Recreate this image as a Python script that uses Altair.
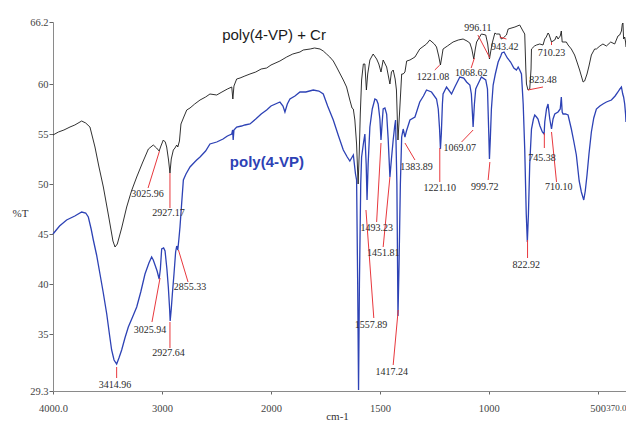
import altair as alt
import pandas as pd

# ---- poly(4-VP) + Cr (black trace): wavenumber (cm-1), %T ----
bk_wn = [4000, 3950, 3900, 3844, 3800, 3737, 3700, 3661, 3615, 3580, 3538, 3490, 3450, 3431, 3410,
         3370, 3324, 3280, 3232, 3180, 3125, 3080, 3050, 3026, 3010, 2988, 2970, 2957, 2940, 2927,
         2915, 2896, 2881, 2865, 2855, 2840, 2826, 2800, 2773, 2743, 2700, 2651, 2600, 2560, 2498,
         2450, 2400, 2360, 2350, 2340, 2315, 2284, 2240, 2193, 2140, 2090, 2040, 2000, 1959, 1928,
         1900, 1867, 1852, 1820, 1800, 1775, 1760, 1745, 1730, 1714, 1699, 1680, 1668, 1653, 1645,
         1638, 1628, 1622, 1615, 1607, 1600, 1595, 1590, 1584, 1576, 1569, 1562, 1556, 1546, 1531,
         1515, 1505, 1495, 1485, 1469, 1454, 1447, 1439, 1430, 1424, 1417, 1410, 1400, 1393, 1385,
         1377, 1362, 1339, 1317, 1286, 1271, 1250, 1240, 1230, 1222, 1215, 1210, 1190, 1164, 1140,
         1118, 1100, 1087, 1078, 1069, 1062, 1056, 1034, 1014, 1005, 997, 990, 983, 972, 965,
         950, 943, 934, 919, 911, 880, 858, 843, 835, 830, 827, 820, 812, 806, 804,
         790, 781, 766, 751, 743, 736, 728, 724, 712, 705, 697, 689, 682, 672, 667,
         663, 659, 644, 636, 621, 606, 595, 583, 567, 560, 549, 540, 529, 514, 506,
         490, 476, 460, 440, 422, 407, 399, 391, 387, 384, 381, 376, 372, 370]
bk_t = [54.9, 55.2, 55.4, 55.7, 55.9, 56.3, 56.1, 55.7, 53.7, 51.8, 49.7, 46.8, 44.3, 43.7, 44.0,
        45.6, 47.7, 49.3, 50.7, 52.1, 53.5, 53.9, 53.6, 53.3, 53.8, 54.4, 54.2, 53.7, 52.4, 51.1,
        52.5, 53.4, 53.6, 53.9, 53.7, 54.3, 56.0, 56.7, 57.4, 57.6, 58.0, 58.4, 58.7, 59.0, 58.9,
        59.2, 59.5, 59.7, 58.5, 59.8, 60.5, 60.6, 60.8, 61.0, 61.2, 61.5, 61.6, 61.9, 62.3, 62.7,
        63.0, 63.2, 63.4, 63.5, 63.6, 63.5, 63.3, 63.0, 62.7, 62.3, 61.7, 60.9, 60.4, 59.7, 59.0,
        58.4, 57.6, 57.5, 56.4, 54.0, 50.0, 53.0, 57.0, 60.4, 62.0, 62.0, 59.4, 61.0, 62.4, 63.0,
        62.5, 62.0, 61.2, 62.4, 61.7, 60.0, 61.2, 61.4, 60.5, 59.4, 54.4, 57.0, 61.0, 61.0, 61.2,
        62.3, 62.4, 62.7, 63.5, 64.0, 64.4, 64.0, 63.7, 62.8, 61.9, 62.8, 63.5, 63.8, 64.2, 64.4,
        64.5, 64.3, 64.1, 63.5, 62.5, 63.5, 64.2, 65.0, 64.9, 64.0, 62.5, 63.4, 64.2, 65.1, 65.0,
        65.0, 64.5, 64.6, 64.9, 65.5, 65.7, 65.9, 65.3, 65.0, 61.5, 60.0, 59.4, 59.5, 61.5, 63.5,
        63.8, 63.9, 64.0, 63.9, 64.5, 64.7, 65.1, 65.0, 64.2, 64.3, 64.4, 64.8, 64.5, 64.8, 65.3,
        64.2, 64.2, 64.2, 63.9, 63.5, 62.9, 62.2, 61.4, 60.2, 60.3, 61.0, 61.8, 62.9, 63.5, 63.5,
        63.8, 64.0, 63.8, 64.2, 64.0, 64.8, 64.9, 65.3, 66.0, 66.1, 64.5, 64.7, 64.2, 63.7]

# ---- poly(4-VP) (blue trace) ----
bl_wn = [4000, 3940, 3875, 3800, 3737, 3700, 3676, 3650, 3630, 3600, 3569, 3540, 3507, 3480, 3462,
         3440, 3416, 3395, 3370, 3340, 3309, 3270, 3232, 3195, 3156, 3120, 3095, 3080, 3064, 3045,
         3026, 3015, 3003, 2985, 2972, 2955, 2942, 2930, 2925, 2915, 2905, 2890, 2875, 2865, 2855,
         2845, 2835, 2820, 2804, 2780, 2743, 2700, 2682, 2651, 2600, 2560, 2498, 2440, 2400, 2360,
         2352, 2347, 2340, 2315, 2270, 2240, 2193, 2140, 2090, 2040, 2000, 1959, 1945, 1936, 1925,
         1913, 1890, 1867, 1840, 1806, 1780, 1760, 1740, 1714, 1690, 1668, 1650, 1638, 1630, 1622,
         1612, 1607, 1602, 1598, 1594, 1588, 1584, 1576, 1569, 1563, 1559, 1554, 1546, 1535, 1523,
         1515, 1508, 1500, 1495, 1490, 1485, 1477, 1469, 1462, 1454, 1447, 1439, 1432, 1428, 1422,
         1417, 1412, 1406, 1400, 1393, 1385, 1378, 1362, 1339, 1317, 1300, 1286, 1263, 1240, 1232,
         1226, 1222, 1218, 1213, 1210, 1194, 1171, 1156, 1133, 1115, 1102, 1087, 1080, 1075, 1072,
         1066, 1060, 1056, 1034, 1014, 1006, 1000, 997, 993, 988, 980, 970, 957, 945, 940,
         930, 915, 900, 885, 873, 865, 858, 850, 842, 835, 828, 823, 818, 812, 804,
         795, 789, 781, 774, 765, 754, 746, 743, 735, 728, 720, 712, 705, 697, 682,
         672, 667, 663, 659, 648, 636, 621, 610, 598, 585, 575, 564, 557, 549, 540,
         529, 518, 506, 490, 476, 460, 437, 420, 407, 398, 391, 385, 381, 376, 372, 370]
bl_t = [45.0, 45.8, 46.4, 46.8, 47.2, 47.1, 46.7, 45.5, 44.4, 42.9, 41.0, 39.2, 37.0, 34.8, 33.4,
        32.4, 32.0, 32.6, 33.4, 34.6, 35.7, 36.7, 37.7, 39.2, 41.0, 42.1, 42.7, 42.4, 41.9, 41.3,
        40.5, 41.5, 43.5, 43.6, 43.3, 41.5, 39.7, 37.5, 36.3, 37.5, 39.0, 41.0, 43.2, 43.8, 43.4,
        44.5, 45.7, 48.0, 50.4, 51.0, 51.7, 52.2, 52.4, 52.7, 53.3, 54.0, 54.2, 54.5, 54.8, 55.0,
        55.4, 54.4, 55.4, 55.7, 55.8, 55.9, 56.0, 56.5, 57.0, 57.4, 57.8, 58.2, 57.8, 57.2, 58.0,
        58.5, 58.8, 59.2, 59.2, 59.4, 59.3, 59.0, 57.8, 56.4, 54.8, 53.4, 52.7, 52.3, 52.6, 52.9,
        51.0, 50.4, 40.0, 29.4, 40.0, 50.0, 52.7, 54.0, 55.0, 52.0, 48.4, 52.0, 55.7, 57.5, 58.5,
        58.4, 58.0, 56.5, 54.4, 56.0, 57.5, 57.6, 57.0, 54.5, 50.7, 52.5, 54.4, 55.8, 56.4, 50.0,
        36.8, 42.0, 50.0, 54.7, 55.5, 54.7, 55.3, 56.4, 56.7, 58.2, 58.8, 59.4, 59.2, 58.5, 57.5,
        55.5, 53.5, 55.0, 58.0, 59.0, 59.7, 59.0, 59.7, 60.7, 60.6, 60.2, 59.9, 59.0, 57.0, 55.7,
        58.0, 59.5, 59.7, 60.7, 60.4, 59.5, 55.0, 52.5, 54.5, 57.5, 59.9, 61.0, 62.2, 62.8, 63.1,
        63.2, 62.6, 62.2, 61.6, 61.4, 61.7, 61.4, 61.0, 58.0, 53.5, 47.0, 44.2, 47.0, 52.0, 55.5,
        56.5, 56.9, 56.7, 56.5, 55.8, 55.2, 55.0, 56.2, 57.5, 58.0, 56.5, 55.5, 56.5, 57.0, 57.2,
        57.5, 58.7, 57.2, 57.0, 57.0, 56.9, 55.5, 54.3, 52.9, 50.3, 49.2, 48.4, 49.3, 50.9, 53.0,
        55.2, 56.6, 57.5, 57.8, 58.0, 58.2, 58.4, 58.8, 59.2, 59.5, 59.7, 59.0, 58.7, 58.0, 57.0, 56.2]

# ---- peak annotations: label, label position, red leader line (wavenumber, %T) ----
ann_text = ["3025.96", "2927.17", "3025.94", "2927.64", "2855.33", "3414.96", "1493.23", "1451.81",
            "1557.89", "1417.24", "1383.89", "1221.10", "1069.07", "999.72", "1221.08", "1068.62",
            "996.11", "943.42", "710.23", "823.48", "822.92", "745.38", "710.10"]
ann_tx = [3133, 2940, 3110, 2940, 2743, 3431, 1515, 1485, 1541, 1446, 1332, 1225, 1133, 1018, 1256,
          1081, 1050, 927, 712, 751, 828, 756, 679]
ann_ty = [49.0, 47.1, 35.4, 33.1, 39.7, 29.9, 45.6, 43.1, 35.9, 31.2, 51.7, 49.6, 53.6, 49.7, 60.7,
          61.1, 65.6, 63.7, 63.1, 60.4, 41.9, 52.6, 49.7]
ann_x1 = [3128, 2927, 3092, 2927, 2761, 3416, 1515, 1485, 1528, 1439, 1339, 1225, 1125, 1003, 1248,
          1081, 1050, 950, 712, 820, 822, 745, 689]
ann_y1 = [49.6, 47.6, 36.2, 33.6, 40.2, 30.6, 46.2, 43.7, 36.6, 31.9, 52.4, 50.2, 54.2, 50.4, 61.4,
          61.6, 64.9, 64.7, 64.2, 59.4, 42.6, 53.6, 50.2]
ann_x2 = [3023, 2927, 3018, 2927, 2849, 3416, 1495, 1454, 1564, 1416, 1385, 1225, 1072, 995, 1225,
          1066, 995, 919, 712, 751, 822, 745, 712]
ann_y2 = [53.3, 51.1, 40.6, 36.2, 43.4, 31.7, 54.1, 50.7, 47.4, 37.4, 54.1, 53.6, 55.4, 52.2, 61.9,
          62.6, 62.6, 64.5, 63.9, 59.7, 44.4, 55.1, 55.2]

# ---- series labels ----
series_names = ["poly(4-VP) + Cr", "poly(4-VP)"]
series_colors = ["#1a1a1a", "#2d42b5"]
series_weights = ["normal", "bold"]
series_lx = [1986, 2037]
series_ly = [64.9, 52.2]

x_ticks = [4000, 3000, 2000, 1500, 1000, 500, 370]
y_ticks = [29.3, 35, 40, 45, 50, 55, 60, 66.2]

df_bk = pd.DataFrame({"wn": bk_wn, "t": bk_t})
df_bl = pd.DataFrame({"wn": bl_wn, "t": bl_t})
df_ann = pd.DataFrame({"label": ann_text, "tx": ann_tx, "ty": ann_ty,
                       "x1": ann_x1, "y1": ann_y1, "x2": ann_x2, "y2": ann_y2})

xscale = alt.Scale(domain=[4000, 2000, 370], range=[0, 218, 573], nice=False, zero=False)
yscale = alt.Scale(domain=[29.3, 66.2], nice=False, zero=False)

serif = "Liberation Serif"

xaxis = alt.Axis(values=x_ticks, title="cm-1", grid=False,
                 labelExpr="datum.value == 4000 || datum.value == 370 ? format(datum.value, '.1f') : format(datum.value, 'd')",
                 labelAlign={"expr": "datum.value == 370 ? 'right' : 'center'"},
                 labelFontSize={"expr": "datum.value == 370 ? 9 : 10.5"},
                 labelFont=serif, labelColor="#444", labelPadding=9,
                 labelOverlap=False, labelFlush=False,
                 tickSize=3, tickColor="#666", domainColor="#8a8a8a",
                 titleFont=serif, titleFontSize=11, titleFontWeight="normal", titleColor="#333",
                 titleX=284, titleY=28, titleAnchor="start", titleAlign="center", titleBaseline="alphabetic")
yaxis = alt.Axis(values=y_ticks, title="%T", grid=False,
                 labelExpr="datum.value == 29.3 || datum.value == 66.2 ? format(datum.value, '.1f') : format(datum.value, 'd')",
                 labelFont=serif, labelFontSize=10.5, labelColor="#444", labelPadding=1,
                 tickSize=4, tickColor="#666", domainColor="#8a8a8a",
                 titleFont=serif, titleFontSize=11, titleFontWeight="normal", titleColor="#333",
                 titleAngle=0, titleX=-33, titleY=191, titleAlign="center", titleBaseline="middle")

black_line = alt.Chart(df_bk).mark_line(color="#1a1a1a", strokeWidth=0.9).encode(
    x=alt.X("wn:Q", scale=xscale, axis=xaxis), y=alt.Y("t:Q", scale=yscale, axis=yaxis), order="wn:Q")
blue_line = alt.Chart(df_bl).mark_line(color="#2d42b5", strokeWidth=1.3).encode(
    x=alt.X("wn:Q", scale=xscale), y=alt.Y("t:Q", scale=yscale), order="wn:Q")

leaders = alt.Chart(df_ann).mark_rule(color="#e8383d", strokeWidth=1).encode(
    x=alt.X("x1:Q", scale=xscale), y=alt.Y("y1:Q", scale=yscale),
    x2="x2:Q", y2="y2:Q")
ann_labels = alt.Chart(df_ann).mark_text(font=serif, fontSize=10, color="#2a2a2a",
                                         align="center", baseline="middle").encode(
    x=alt.X("tx:Q", scale=xscale), y=alt.Y("ty:Q", scale=yscale), text="label:N")

series_layers = []
for i in range(len(series_names)):
    d = pd.DataFrame({"name": [series_names[i]], "lx": [series_lx[i]], "ly": [series_ly[i]]})
    series_layers.append(
        alt.Chart(d).mark_text(font="Liberation Sans", fontSize=15, fontWeight=series_weights[i],
                               color=series_colors[i], align="center", baseline="middle").encode(
            x=alt.X("lx:Q", scale=xscale), y=alt.Y("ly:Q", scale=yscale), text="name:N"))

chart = alt.layer(black_line, blue_line, leaders, ann_labels, *series_layers).properties(
    width=573, height=369,
    autosize=alt.AutoSizeParams(type="none"),
    padding={"left": 45, "top": 14, "right": 0, "bottom": 32},
    background="white",
).configure_view(stroke=None)

chart.save("out.html", embed_options={"renderer": "svg", "actions": False})
